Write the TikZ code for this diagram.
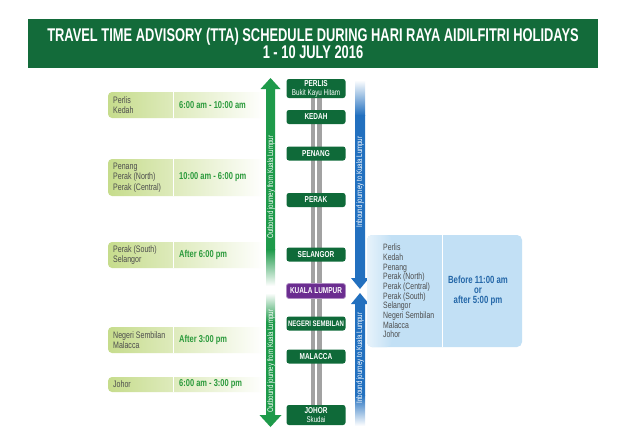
\documentclass[tikz,border=0pt]{standalone}
\usepackage{fontspec}
\setmainfont{Liberation Sans}
\newfontfamily\narrowsans{Liberation Sans}[FakeStretch=0.75]
\newfontfamily\headsans{Liberation Sans}[FakeStretch=0.7]
\usetikzlibrary{positioning, calc, backgrounds}
\definecolor{banner}{HTML}{136B3A}
\definecolor{station}{HTML}{0F6A39}
\definecolor{outgreen}{HTML}{1E9A4A}
\definecolor{inblue}{HTML}{2270BF}
\definecolor{klpurple}{HTML}{6B2D90}
\definecolor{leafgreen}{HTML}{C6DC8C}
\definecolor{timegreen}{HTML}{2A9A3B}
\definecolor{skyblue}{HTML}{C2E0F5}
\definecolor{slotblue}{HTML}{2467A8}
\definecolor{roadgrey}{HTML}{A2A2A2}
\definecolor{listgrey}{HTML}{4D4D4D}

\begin{document}
\begin{tikzpicture}[x=1pt, y=-1pt,
    titlebar/.style={rectangle, fill=banner, text=white, align=center,
      minimum width=570pt, minimum height=49pt, inner sep=0pt,
      font=\headsans\bfseries\fontsize{18.4}{17}\selectfont},
    stop/.style={rectangle, rounded corners=2.5pt, fill=station, text=white,
      minimum width=59pt, minimum height=14pt, inner sep=1pt, align=center,
      font=\narrowsans\bfseries\fontsize{8.6}{9}\selectfont},
    hub/.style={stop, fill=klpurple, draw=klpurple!55, line width=0.8pt},
    places/.style={anchor=west, align=left, inner sep=0pt, text=listgrey,
      font=\narrowsans\fontsize{9.4}{10.5}\selectfont},
    slot/.style={anchor=west, inner sep=0pt, text=timegreen,
      font=\narrowsans\bfseries\fontsize{10}{10}\selectfont},
    bandtext/.style={rotate=90, inner sep=0pt, text=white,
      font=\narrowsans\fontsize{8.2}{8}\selectfont}
  ]
  \useasboundingbox (0,0) rectangle (630,445);

  % title banner
  \node[titlebar] (title) at (313,43.5)
    {TRAVEL TIME ADVISORY (TTA) SCHEDULE DURING HARI RAYA AIDILFITRI HOLIDAYS\\1 - 10 JULY 2016};

  % stations along the road
  \node[stop, minimum height=19pt] (perlis) at (316,88.5)
    {PERLIS\\{\mdseries\fontsize{8.4}{8}\selectfont Bukit Kayu Hitam}};
  \node[stop] (kedah) at (316,117) {KEDAH};
  \node[stop] (penang) at (316,153.5) {PENANG};
  \node[stop] (perak) at (316,200) {PERAK};
  \node[stop] (selangor) at (316,254.5) {SELANGOR};
  \node[hub, minimum height=15pt] (kl) at (316,291) {KUALA LUMPUR};
  \node[stop, font=\narrowsans\bfseries\fontsize{8}{9}\selectfont] (negeri) at (316,323.5) {NEGERI SEMBILAN};
  \node[stop] (malacca) at (316,356.5) {MALACCA};
  \node[stop, minimum height=20pt] (johor) at (316,415)
    {JOHOR\\{\mdseries\fontsize{8.2}{8.5}\selectfont Skudai}};

  \begin{scope}[on background layer]
    \fill[white] (0,0) rectangle (630,445);
    \fill[roadgrey] ($(perlis.south)+(-5.5,0)$) rectangle ($(johor.north)+(-1,0)$);
    \fill[roadgrey] ($(perlis.south)+(1,0)$) rectangle ($(johor.north)+(5.5,0)$);
  \end{scope}

  % outbound (green)
  \fill[outgreen] (266,250) -- (266,89) -- (260.5,89) -- (270.5,78)
    -- (280.5,89) -- (275,89) -- (275,250) -- cycle;
  \shade[top color=outgreen, bottom color=white] (266,249.5) rectangle (275,286);
  \shade[top color=white, bottom color=outgreen] (266,293) rectangle (275,322);
  \fill[outgreen] (266,321.5) -- (266,415) -- (259.5,415) -- (270.5,427)
    -- (281.5,415) -- (275,415) -- (275,321.5) -- cycle;
  \node[bandtext] (outtop) at (271,187) {Outbound journey from Kuala Lumpur};
  \node[bandtext] (outbot) at (271,361) {Outbound journey from Kuala Lumpur};

  % inbound (blue)
  \shade[top color=white, bottom color=inblue] (355,80) rectangle (365,115.5);
  \fill[inblue] (355,115) -- (355,278) -- (351,278) -- (360,289)
    -- (369,278) -- (365,278) -- (365,115) -- cycle;
  \fill[inblue] (355,395.5) -- (355,304) -- (351,304) -- (360,293)
    -- (369,304) -- (365,304) -- (365,395.5) -- cycle;
  \shade[top color=inblue, bottom color=white] (355,395) rectangle (365,426);
  \node[bandtext] (intop) at (360,182) {Inbound journey to Kuala Lumpur};
  \node[bandtext] (inbot) at (360,358) {Inbound journey to Kuala Lumpur};

  % outbound schedule
  \foreach \top/\bot in {92/118, 159/196, 242/268, 327/353, 377/392} {
    \shade[rounded corners=4pt, left color=leafgreen, middle color=leafgreen!90,
      right color=white] (108,\top) rectangle (265,\bot);
    \draw[white, line width=1pt] (173,\top) -- (173,\bot);
  }
  \node[places] (grp1) at (113,105) {Perlis\\Kedah};
  \node[slot] (time1) at (179,105) {6:00 am - 10:00 am};
  \node[places] (grp2) at (113,177.5) {Penang\\Perak (North)\\Perak (Central)};
  \node[slot] (time2) at (179,177.5) {10:00 am - 6:00 pm};
  \node[places] (grp3) at (113,255) {Perak (South)\\Selangor};
  \node[slot] (time3) at (179,255) {After 6:00 pm};
  \node[places] (grp4) at (113,340) {Negeri Sembilan\\Malacca};
  \node[slot] (time4) at (179,340) {After 3:00 pm};
  \node[places] (grp5) at (113,384.5) {Johor};
  \node[slot] (time5) at (179,384.5) {6:00 am - 3:00 pm};

  % inbound schedule
  \fill[skyblue, rounded corners=5pt] (367,235) rectangle (522,347);
  \shade[rounded corners=5pt, left color=skyblue!40, right color=skyblue]
    (367,235) rectangle (392,347);
  \draw[white, line width=1pt] (442,235) -- (442,347);
  \node[places, font=\narrowsans\fontsize{9.2}{9.7}\selectfont] (grpin) at (383,291)
    {Perlis\\Kedah\\Penang\\Perak (North)\\Perak (Central)\\Perak (South)\\Selangor\\Negeri Sembilan\\Malacca\\Johor};
  \node[slot, anchor=center, align=center, text=slotblue,
    font=\narrowsans\bfseries\fontsize{10.4}{10}\selectfont] (timein) at (478,291)
    {Before 11:00 am\\or\\after 5:00 pm};
\end{tikzpicture}
\end{document}
